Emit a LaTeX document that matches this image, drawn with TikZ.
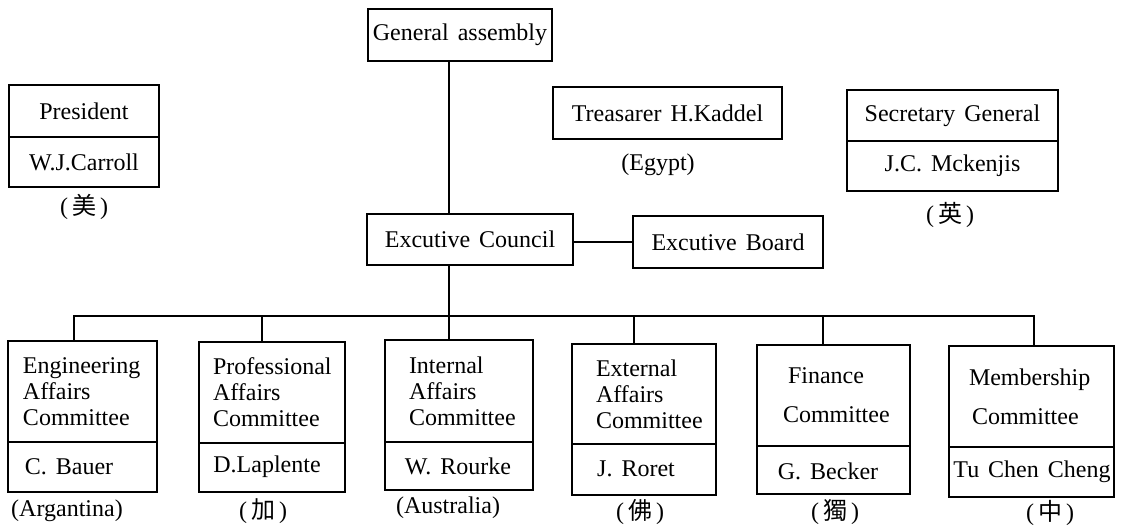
\documentclass[tikz,border=0pt]{standalone}
\usepackage{fontspec}
\setmainfont{Liberation Serif}[WordSpace=1.5]
\newfontfamily\cjk{Noto Sans CJK JP}
\begin{document}
\begin{tikzpicture}[x=0.5pt,y=-0.5pt,
  box/.style={draw,line width=0.9pt,inner sep=0pt,outer sep=0pt,font=\fontsize{12}{13}\selectfont},
  txt/.style={inner sep=0pt,outer sep=0pt,font=\fontsize{12}{13}\selectfont},
  ln/.style={line width=0.9pt,line join=miter}]
\useasboundingbox (0,0) rectangle (1121,526);

% top level
\node[box,minimum width=92pt,minimum height=26pt] (ga) at (460,35) {General assembly};

\node[box,minimum width=75pt,minimum height=26pt] (pr) at (84,111) {President};
\node[box,minimum width=75pt,minimum height=25pt] (prn) at (84,162) {W.J.Carroll};
\node[txt] (prl) at (84,207) {(\,{\cjk 美}\,)};

\node[box,minimum width=114.5pt,minimum height=26pt] (tr) at (667.5,113) {Treasarer H.Kaddel};
\node[txt] (trl) at (658,165) {(Egypt)};

\node[box,minimum width=105.5pt,minimum height=25.5pt] (sg) at (952.5,115.5) {Secretary General};
\node[box,minimum width=105.5pt,minimum height=25pt] (sgn) at (952.5,166) {J.C. Mckenjis};
\node[txt] (sgl) at (950,215) {(\,{\cjk 英}\,)};

\node[box,minimum width=103pt,minimum height=25.5pt] (ec) at (470,239.5) {Excutive Council};
\node[box,minimum width=95pt,minimum height=26pt] (eb) at (728,242) {Excutive Board};

% committees
\node[box,minimum width=74.5pt,minimum height=50.5pt] (c1) at (82.5,391.5) {};
\node[txt,anchor=west,align=left] (c1t) at ([xshift=7.5pt]c1.west) {Engineering\\Affairs\\Committee};
\node[box,minimum width=74.5pt,minimum height=25pt] (c1n) at (82.5,467) {};
\node[txt] (c1nt) at (69,467) {C. Bauer};
\node[txt] (c1l) at (67,511) {(Argantina)};

\node[box,minimum width=73pt,minimum height=50.5pt] (c2) at (272,392.5) {};
\node[txt,anchor=west,align=left] (c2t) at ([xshift=7pt]c2.west) {Professional\\Affairs\\Committee};
\node[box,minimum width=73pt,minimum height=24.5pt] (c2n) at (272,467.5) {};
\node[txt] (c2nt) at (267,467) {D.Laplente};
\node[txt] (c2l) at (263,511) {(\,{\cjk 加}\,)};

\node[box,minimum width=74pt,minimum height=51pt] (c3) at (459,391) {};
\node[txt,anchor=west,align=left] (c3t) at ([xshift=12pt]c3.west) {Internal\\Affairs\\Committee};
\node[box,minimum width=74pt,minimum height=24pt] (c3n) at (459,466) {};
\node[txt] (c3nt) at (458,466) {W. Rourke};
\node[txt] (c3l) at (448,508) {(Australia)};

\node[box,minimum width=72pt,minimum height=50pt] (c4) at (644,394) {};
\node[txt,anchor=west,align=left] (c4t) at ([xshift=12pt]c4.west) {External\\Affairs\\Committee};
\node[box,minimum width=72pt,minimum height=25.5pt] (c4n) at (644,469.5) {};
\node[txt] (c4nt) at (636,469) {J. Roret};
\node[txt] (c4l) at (640,512) {(\,{\cjk 佛}\,)};

\node[box,minimum width=76.5pt,minimum height=50.5pt] (c5) at (833.5,395.5) {};
\node[txt,anchor=west,align=left] (c5t) at ([xshift=13pt]c5.west) {\hspace*{2.5pt}Finance\\[6.5pt]Committee};
\node[box,minimum width=76.5pt,minimum height=24pt] (c5n) at (833.5,470) {};
\node[txt] (c5nt) at (828,471) {G. Becker};
\node[txt] (c5l) at (835,512) {(\,{\cjk 獨}\,)};

\node[box,minimum width=82.5pt,minimum height=50.5pt] (c6) at (1031.5,396.5) {};
\node[txt,anchor=west,align=left] (c6t) at ([xshift=10pt]c6.west) {Membership\\[6.5pt]\hspace*{1.5pt}Committee};
\node[box,minimum width=82.5pt,minimum height=25pt] (c6n) at (1031.5,472) {};
\node[txt] (c6nt) at (1032,472) {Tu Chen Cheng};
\node[txt] (c6l) at (1050,513) {(\,{\cjk 中}\,)};

% connectors
\coordinate (sp) at (449,0);
\coordinate (bl) at (74,316);
\coordinate (br) at (1034,316);
\coordinate (d2) at (262,316);
\coordinate (d4) at (634,316);
\coordinate (d5) at (823,316);

\draw[ln] (ga.south -| sp) -- (ec.north -| sp);
\draw[ln] (eb.west) -- (eb.west -| ec.east);
\draw[ln] (ec.south -| sp) -- (c3.north -| sp);
\draw[ln] (c1.north -| bl) -- (bl) -- (br) -- (c6.north -| br);
\draw[ln] (d2) -- (c2.north -| d2);
\draw[ln] (d4) -- (c4.north -| d4);
\draw[ln] (d5) -- (c5.north -| d5);
\end{tikzpicture}
\end{document}
